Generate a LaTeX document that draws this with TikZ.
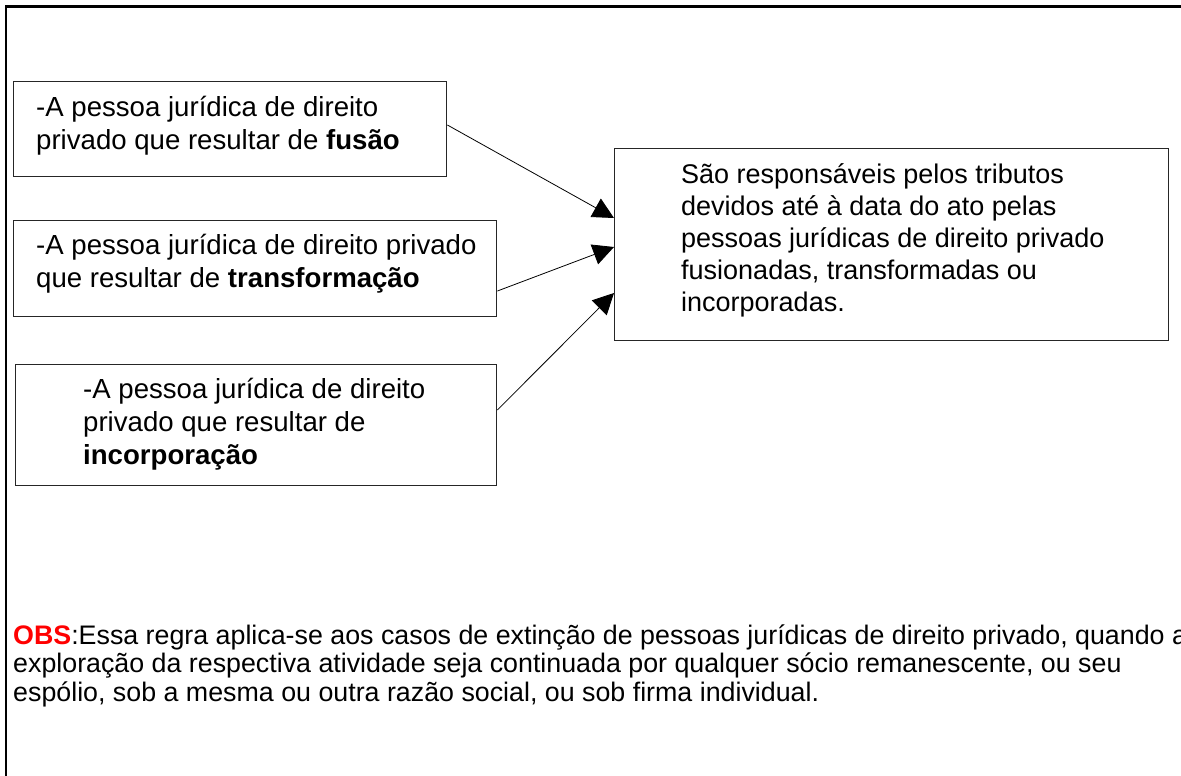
\documentclass[tikz,border=0pt]{standalone}
\usepackage{fontspec}
\setmainfont{Liberation Sans}
\usetikzlibrary{arrows.meta,calc}
\newcommand{\topstrut}{\rule{0pt}{28pt}}
\definecolor{obsred}{RGB}{255,0,0}
\begin{document}
\begin{tikzpicture}[x=1pt,y=-1pt,
  box/.style={draw=black!85,line width=1.4pt,inner sep=0pt,anchor=north west},
  txt/.style={inner sep=0pt,anchor=north west,align=left,font=\fontsize{27.6}{33}\selectfont},
  arr/.style={draw=black,line width=0.8pt,-{Triangle[length=21pt,width=21pt]}}]
\useasboundingbox (0,0) rectangle (1181,776);
\draw[line width=3pt] (5,7) -- (1181,7);
\draw[line width=2pt] (6,6) -- (6,776);
\node[box,minimum width=433pt,minimum height=95pt] (b1) at (13,81) {};
\node[txt] (t1) at (36,88) {\topstrut-A pessoa jurídica de direito\\privado que resultar de \textbf{fusão}};
\node[box,minimum width=483pt,minimum height=96pt] (b2) at (13,220) {};
\node[txt] (t2) at (36,226) {\topstrut-A pessoa jurídica de direito privado\\que resultar de \textbf{transformação}};
\node[box,minimum width=481pt,minimum height=121pt] (b3) at (15,364) {};
\node[txt] (t3) at (83,370) {\topstrut-A pessoa jurídica de direito\\privado que resultar de\\\textbf{incorporação}};
\node[box,minimum width=554pt,minimum height=192pt] (r) at (614,148) {};
\node[txt,font=\fontsize{27}{32}\selectfont] (tr) at (681,155) {\topstrut São responsáveis pelos tributos\\devidos até à data do ato pelas\\pessoas jurídicas de direito privado\\fusionadas, transformadas ou\\incorporadas.};
\node[txt,font=\fontsize{26.8}{28.7}\selectfont] (obs) at (13,616) {\topstrut\textcolor{obsred}{\textbf{OBS}}:Essa regra aplica-se aos casos de extinção de pessoas jurídicas de direito privado, quando a\\exploração da respectiva atividade seja continuada por qualquer sócio remanescente, ou seu\\espólio, sob a mesma ou outra razão social, ou sob firma individual.};
\draw[arr] ($(b1.north east)+(0,44)$) -- ($(r.north west)+(0,70)$);
\draw[arr] ($(b2.north east)+(0,71)$) -- ($(r.north west)+(0,99)$);
\draw[arr] ($(b3.north east)+(0,46)$) -- ($(r.north west)+(0,145)$);
\end{tikzpicture}
\end{document}
